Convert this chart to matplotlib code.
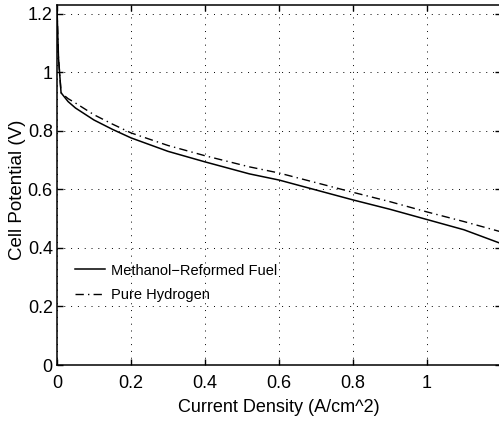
import numpy as np
from matplotlib import pyplot as plt

plt.rcParams['font.family'] = ['Liberation Sans', 'DejaVu Sans']

# current density (A/cm^2) and cell potential (V)
x_meth = [0.0, 0.004, 0.011, 0.03, 0.05, 0.1, 0.15, 0.2, 0.3, 0.4, 0.52, 0.6, 0.7, 0.8, 0.9, 1.0, 1.1, 1.2]
v_meth = [1.22, 1.05, 0.93, 0.9, 0.878, 0.837, 0.805, 0.776, 0.73, 0.694, 0.653, 0.632, 0.598, 0.564, 0.532, 0.497, 0.462, 0.415]

x_h2 = [0.0, 0.004, 0.011, 0.03, 0.05, 0.1, 0.15, 0.2, 0.3, 0.4, 0.52, 0.6, 0.7, 0.8, 0.9, 1.0, 1.1, 1.2]
v_h2 = [1.22, 1.05, 0.93, 0.91, 0.895, 0.855, 0.823, 0.793, 0.75, 0.715, 0.677, 0.656, 0.623, 0.59, 0.558, 0.523, 0.49, 0.455]

xticks = [0, 0.2, 0.4, 0.6, 0.8, 1]
yticks = [0, 0.2, 0.4, 0.6, 0.8, 1, 1.2]

fig = plt.figure(figsize=(4.99, 4.25), dpi=100)
ax = fig.add_axes([57/499, 60/425, 444/499, 360/425])
ax.plot(x_meth, v_meth, 'k-', lw=1.1, label='Methanol\u2212Reformed Fuel')
ax.plot(x_h2, v_h2, color='k', linestyle=(0, (6, 3, 1, 3)), lw=1.0, label='Pure Hydrogen')

ax.set_xlim(0, 1.2)
ax.set_ylim(0, 1.23)
ax.set_xticks(xticks)
ax.set_xticklabels(['0', '0.2', '0.4', '0.6', '0.8', '1'])
ax.set_yticks(yticks)
ax.set_yticklabels(['0', '0.2', '0.4', '0.6', '0.8', '1', '1.2'])
ax.tick_params(direction='in', top=True, right=True, labelsize=13, length=4, width=1)
ax.tick_params(axis='x', pad=7.5)
ax.tick_params(axis='y', pad=3)
ax.grid(True, color='k', linestyle=(0, (1, 6)), linewidth=0.7)
for s in ax.spines.values():
    s.set_linewidth(1.1)

ax.set_xlabel('Current Density (A/cm^2)', fontsize=13, labelpad=5)
ax.set_ylabel('Cell Potential (V)', fontsize=13.5)
ax.yaxis.set_label_coords(-0.07, 0.486)

ax.legend(loc='upper left', bbox_to_anchor=(0.0275, 0.298), frameon=False, fontsize=10.5,
          handlelength=2.05, handletextpad=0.4, labelspacing=0.75, borderaxespad=0)

fig.savefig('out.png', dpi=100)
